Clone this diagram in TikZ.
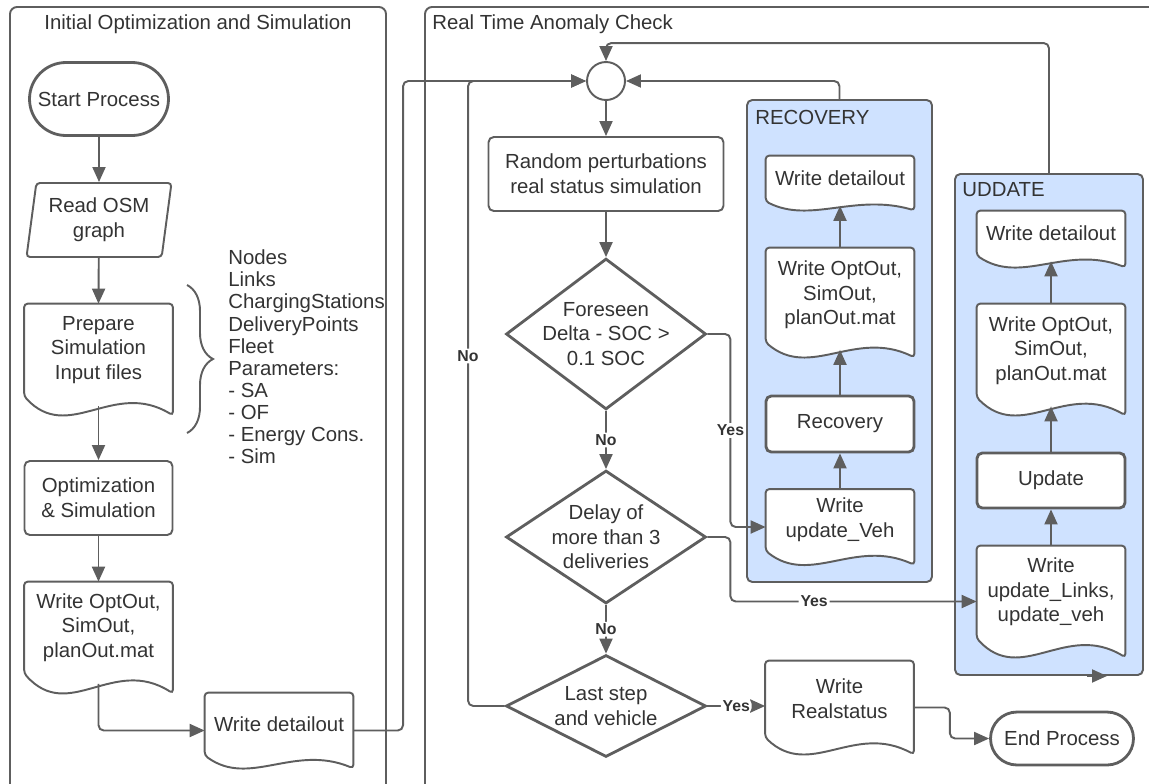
\documentclass[tikz,border=0pt]{standalone}
\usepackage{fontspec}
\setmainfont{Liberation Sans}
\usetikzlibrary{
  arrows.meta,
  shapes.geometric,
  shapes.misc,
  calc,
  decorations.pathreplacing
}
\definecolor{fcLine}{HTML}{5E5E5E}
\definecolor{fcText}{HTML}{333333}
\definecolor{fcGroup}{HTML}{CFE2FF}
\newcommand{\fcfont}{\fontsize{11.6}{14}\selectfont}
\newcommand{\fclist}{\fontsize{11.6}{12.6}\selectfont}
\newcommand{\fclbl}{\fontsize{9}{10}\selectfont\bfseries}
\pgfdeclarelayer{back}
\pgfdeclarelayer{mid}
\pgfsetlayers{back,mid,main}
\tikzset{
  fcnode/.style={
    draw=fcLine, line width=1.1pt, fill=white, text=fcText,
    font=\fcfont, align=center, inner sep=2pt
  },
  fcthick/.style={line width=1.6pt},
  fcterm/.style={fcnode, rounded rectangle, fcthick, minimum width=2.92cm, minimum height=1.46cm},
  fcproc/.style={fcnode, rounded corners=3pt, minimum width=2.96cm, minimum height=1.48cm},
  fcio/.style={fcnode, trapezium, trapezium left angle=79, trapezium right angle=101,
    trapezium stretches body, rounded corners=2pt, minimum width=2.9cm, minimum height=1.48cm},
  fcdoc/.style={text=fcText, font=\fcfont, align=center, inner sep=0pt, minimum width=2.96cm},
  docline/.style={draw=fcLine, line width=1.1pt, fill=white, rounded corners=2pt},
  fcdec/.style={fcnode, diamond, fcthick, inner sep=-2mm, minimum width=4cm},
  fcjoin/.style={fcnode, circle, minimum size=7.6mm, inner sep=0pt},
  grpbox/.style={draw=fcLine, line width=1.1pt, fill=fcGroup, rounded corners=3pt, inner sep=0pt},
  panel/.style={draw=fcLine, line width=1.1pt, rounded corners=4pt},
  conn/.style={draw=fcLine, line width=1.1pt, rounded corners=3pt, -{Triangle[length=3mm, width=2.6mm]}},
  lbl/.style={font=\fclbl, text=fcText, fill=white, inner sep=1pt},
  ttl/.style={font=\fcfont, text=fcText, inner sep=0pt},
  brace/.style={draw=fcLine, line width=1.1pt, decorate, decoration={brace, amplitude=5.2mm}}
}
\newcommand{\docframe}[2]{%
  \begin{pgfonlayer}{mid}
    \draw[docline] (#1.north west) -- (#1.north east) -- ($(#1.south east)+(0,-#2)$)
      .. controls ($(#1.south west)!0.6!(#1.south east)+(0,{0.9*#2})$)
      and ($(#1.south west)!0.3!(#1.south east)+(0,{-2.5*#2})$) .. (#1.south west) -- cycle;
  \end{pgfonlayer}}

\begin{document}
\begin{tikzpicture}[x=0.2mm, y=-0.2mm]
  \useasboundingbox (0,0) rectangle (1149,783);
  \begin{pgfonlayer}{back}
    \draw[panel] (10,7) rectangle (386,815);
    \draw[panel] (425,7) rectangle (1165,815);
    \node[grpbox, minimum width=3.7cm, minimum height=9.64cm] (recgrp) at (839.5,341) {};
    \node[grpbox, minimum width=3.76cm, minimum height=10.02cm] (updgrp) at (1049,424.5) {};
  \end{pgfonlayer}
  \node[ttl] (ttlinit) at (198,24) {Initial Optimization and Simulation};
  \node[ttl, anchor=west] (ttlcheck) at (432,24) {Real Time Anomaly Check};
  \node[ttl, anchor=west] (ttlrec) at (755,117) {RECOVERY};
  \node[ttl, anchor=west] (ttlupd) at (962,190) {UDDATE};

  % initial optimization
  \node[fcterm] (start) at (99,99) {Start Process};
  \node[fcio] (readosm) at (99,220) {Read OSM\\graph};
  \node[fcdoc, minimum height=1.84cm] (prep) at (98.5,350) {Prepare\\Simulation\\Input files};
  \docframe{prep}{3.8mm}
  \node[fcproc] (optsim) at (98.5,498) {Optimization\\\& Simulation};
  \node[fcdoc, minimum height=1.82cm] (optout) at (98.5,627.5) {Write OptOut,\\SimOut,\\planOut.mat};
  \docframe{optout}{4mm}
  \node[fcdoc, minimum height=1.24cm] (detail) at (279,724) {Write detailout};
  \docframe{detail}{2.6mm}
  \node[font=\fclist, text=fcText, align=left, anchor=west, inner sep=0pt] (params) at (228,357)
    {Nodes\\Links\\ChargingStations\\DeliveryPoints\\Fleet\\Parameters:\\- SA\\- OF\\- Energy Cons.\\- Sim};
  \coordinate (brtop) at (187,285);
  \coordinate (brbot) at (187,433);
  \draw[brace] (brtop) -- (brbot);

  % anomaly check
  \node[fcjoin] (jct) at (606,81) {};
  \node[fcproc, minimum width=4.7cm] (rand) at (606,174) {Random perturbations\\real status simulation};
  \node[fcdec, minimum height=2.64cm] (dec1) at (606,334) {Foreseen\\Delta - SOC >\\0.1 SOC};
  \node[fcdec, minimum height=2.62cm] (dec2) at (606,537) {Delay of\\more than 3\\deliveries};
  \node[fcdec, minimum height=1.88cm] (dec3) at (606,706) {Last step\\and vehicle};
  \node[fcdoc, minimum height=1.52cm] (realst) at (839.5,699) {Write\\Realstatus};
  \docframe{realst}{3.4mm}
  \node[fcterm, minimum width=3cm, minimum height=1.06cm] (endp) at (1062,738.5) {End Process};

  % recovery
  \node[fcdoc, minimum height=0.9cm] (rdet) at (840,178.5) {Write detailout};
  \docframe{rdet}{1.8mm}
  \node[fcdoc, minimum height=1.88cm] (ropt) at (840,295) {Write OptOut,\\SimOut,\\planOut.mat};
  \docframe{ropt}{3mm}
  \node[fcproc, fcthick, minimum height=1.12cm] (rrec) at (840,424) {Recovery};
  \node[fcdoc, minimum height=1.22cm] (rveh) at (840,520) {Write\\update\_Veh};
  \docframe{rveh}{2.8mm}

  % update
  \node[fcdoc, minimum height=0.88cm] (udet) at (1051,233) {Write detailout};
  \docframe{udet}{2.4mm}
  \node[fcdoc, minimum height=1.86cm] (uopt) at (1051,350.5) {Write OptOut,\\SimOut,\\planOut.mat};
  \docframe{uopt}{3.6mm}
  \node[fcproc, fcthick, minimum height=1.1cm] (uupd) at (1051,480.5) {Update};
  \node[fcdoc, minimum height=1.84cm] (ulnk) at (1051,592) {Write\\update\_Links,\\update\_veh};
  \docframe{ulnk}{3.8mm}

  \draw[conn] (start) -- (readosm);
  \draw[conn] (readosm) -- (prep.north);
  \draw[conn] ([yshift=-2mm]prep.south) -- (optsim.north);
  \draw[conn] (optsim.south) -- (optout.north);
  \draw[conn] ([yshift=-2.1mm]optout.south) |- ([yshift=-1.3mm]detail.west);
  \draw[conn] ([yshift=-1.3mm]detail.east) -| ($(jct.west)+(-183,0)$) -- (jct.west);

  \draw[conn] (jct) -- (rand);
  \draw[conn] (rand) -- (dec1);
  \draw[conn] (dec1) -- node[lbl]{No} (dec2);
  \draw[conn] (dec2) -- node[lbl]{No} (dec3);
  \draw[conn] (dec1.east) -- ++(23,0) |- node[lbl, pos=0.25]{Yes} ([yshift=-1.4mm]rveh.west);
  \draw[conn] (dec2.east) -- ++(23,0) |- node[lbl, pos=0.67]{Yes} ([yshift=-1.9mm]ulnk.west);
  \draw[conn] (dec3.east) -- node[lbl]{Yes} (dec3.east -| realst.west);
  \draw[conn] (dec3.west) -| node[lbl, pos=0.78]{No} ($(jct.west)+(-118,0)$) -- (jct.west);
  \draw[conn] ([yshift=-1.7mm]realst.east) -- ++(36,0) |- (endp.west);
  \draw[conn] (recgrp.north) |- (jct.east);
  \draw[conn] (updgrp.north) -- ++(0,-130) -| (jct.north);

  \draw[conn] (rveh.north) -- (rrec.south);
  \draw[conn] (rrec.north) -- ([yshift=-1.5mm]ropt.south);
  \draw[conn] (ropt.north) -- ([yshift=-0.9mm]rdet.south);
  \draw[conn] (ulnk.north) -- (uupd.south);
  \draw[conn] (uupd.north) -- ([yshift=-1.8mm]uopt.south);
  \draw[conn] (uopt.north) -- ([yshift=-1.2mm]udet.south);
  \draw[conn] ($(updgrp.south)+(38,0)$) -- ($(updgrp.south)+(58,0)$);
\end{tikzpicture}
\end{document}
